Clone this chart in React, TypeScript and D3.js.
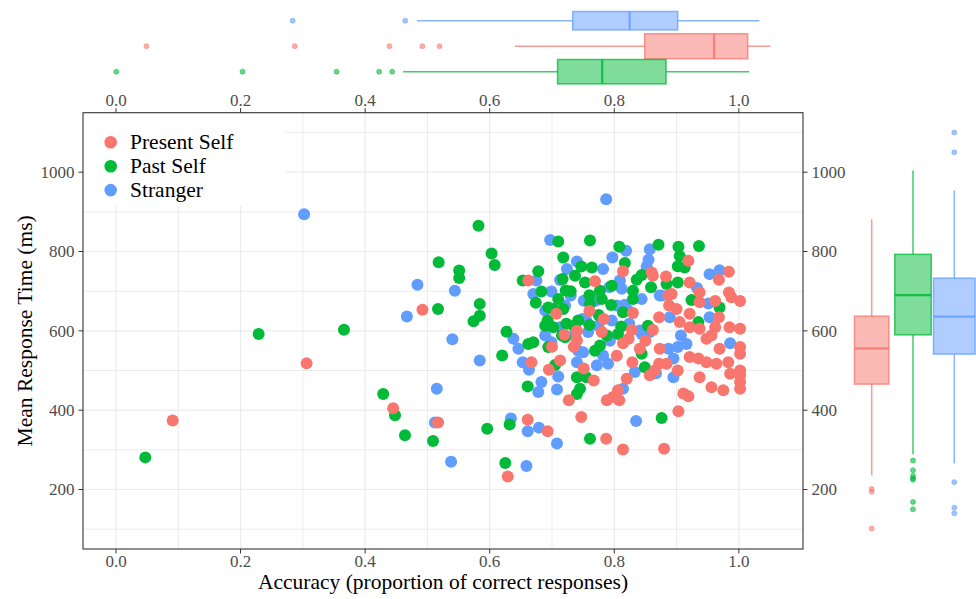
import React from "react";
import * as d3 from "d3";

// ---------- data ----------
const groups = ["Present Self", "Past Self", "Stranger"];
const groupColors = ["#F8766D", "#00BA38", "#619CFF"];

const presentSelf: [number, number][] = [
  [0.091, 374], [0.306, 518], [0.445, 405], [0.492, 653], [0.517, 369], [0.629, 233], [0.661, 376],
  [0.667, 521], [0.693, 347], [0.695, 502], [0.727, 425], [0.662, 727], [0.707, 643], [0.740, 576],
  [0.814, 750], [0.860, 747], [0.919, 777], [0.984, 749], [0.968, 729], [0.883, 737], [0.769, 725],
  [0.921, 722], [0.937, 697], [0.984, 697], [0.988, 685], [1.002, 675], [0.887, 689], [0.888, 664],
  [0.962, 675], [0.900, 655], [0.872, 634], [0.921, 643], [0.968, 634], [0.905, 622], [0.921, 609],
  [0.937, 605], [0.962, 609], [0.985, 609], [1.002, 605], [0.780, 597], [0.814, 569], [0.873, 555],
  [0.956, 588], [0.969, 555], [1.002, 559], [1.002, 542], [0.921, 534], [0.935, 530], [0.948, 521],
  [0.964, 517], [0.983, 521], [0.829, 521], [0.872, 517], [0.857, 488], [0.902, 500], [0.937, 483],
  [0.986, 492], [1.002, 488], [0.956, 458], [0.975, 450], [1.002, 454], [0.911, 442], [0.919, 435],
  [0.820, 479], [0.788, 425], [0.798, 433], [0.808, 425], [0.747, 383], [0.903, 397], [0.787, 328],
  [0.814, 301], [0.880, 303], [0.948, 580], [1.002, 500], [1.002, 471], [0.884, 517], [0.937, 672],
  [0.892, 693], [0.862, 739], [0.862, 602], [0.828, 602], [0.740, 600], [0.700, 560], [0.760, 650],
  [0.720, 590], [0.850, 575], [0.830, 645], [0.783, 630], [0.823, 580], [0.804, 537], [0.841, 555],
  [0.865, 500], [0.806, 450], [0.767, 475], [0.713, 525], [0.735, 560], [0.751, 505],
];

const pastSelf: [number, number][] = [
  [0.047, 281], [0.229, 592], [0.366, 603], [0.429, 441], [0.448, 387], [0.464, 337], [0.509, 322],
  [0.596, 353], [0.632, 364], [0.625, 267], [0.661, 460], [0.740, 441], [0.582, 865], [0.603, 795],
  [0.608, 766], [0.518, 773], [0.551, 752], [0.551, 733], [0.517, 655], [0.584, 668], [0.584, 638],
  [0.574, 624], [0.627, 598], [0.620, 538], [0.662, 567], [0.670, 571], [0.705, 514], [0.710, 825],
  [0.718, 785], [0.737, 739], [0.678, 750], [0.653, 727], [0.717, 731], [0.683, 699], [0.710, 680],
  [0.694, 659], [0.702, 655], [0.718, 655], [0.742, 626], [0.689, 613], [0.702, 609], [0.723, 618],
  [0.716, 588], [0.694, 559], [0.721, 584], [0.740, 483], [0.808, 812], [0.871, 817], [0.903, 812],
  [0.936, 814], [0.905, 789], [0.902, 763], [0.913, 760], [0.747, 762], [0.764, 760], [0.844, 741],
  [0.836, 729], [0.753, 722], [0.777, 701], [0.830, 701], [0.859, 710], [0.884, 718], [0.902, 722],
  [0.924, 678], [0.780, 680], [0.830, 680], [0.969, 659], [0.814, 647], [0.935, 622], [0.811, 611],
  [0.854, 613], [0.788, 588], [0.806, 592], [0.844, 542], [0.769, 550], [0.849, 508], [0.755, 483],
  [0.745, 454], [0.876, 380], [0.761, 328], [0.760, 615], [0.775, 640], [0.795, 665], [0.730, 700],
  [0.760, 690], [0.735, 613], [0.761, 668], [0.717, 588], [0.777, 563], [0.796, 714], [0.817, 771],
  [0.693, 626], [0.674, 671], [0.722, 702], [0.761, 828],
];

const stranger: [number, number][] = [
  [0.302, 894], [0.484, 716], [0.544, 701], [0.467, 636], [0.540, 579], [0.584, 525], [0.638, 580],
  [0.646, 555], [0.653, 521], [0.663, 502], [0.710, 485], [0.683, 471], [0.678, 446], [0.708, 452],
  [0.515, 454], [0.512, 369], [0.538, 270], [0.634, 379], [0.661, 347], [0.679, 356], [0.708, 316],
  [0.659, 259], [0.697, 829], [0.740, 775], [0.724, 756], [0.675, 727], [0.713, 728], [0.670, 693],
  [0.699, 699], [0.730, 689], [0.713, 609], [0.689, 588], [0.699, 571], [0.737, 592], [0.742, 550],
  [0.740, 521], [0.787, 932], [0.819, 802], [0.797, 785], [0.857, 806], [0.855, 779], [0.852, 762],
  [0.782, 756], [0.953, 743], [0.969, 753], [0.792, 710], [0.812, 706], [0.933, 708], [0.876, 689],
  [0.751, 676], [0.804, 664], [0.817, 666], [0.844, 680], [0.951, 669], [0.889, 634], [0.953, 634],
  [0.755, 626], [0.774, 613], [0.796, 626], [0.824, 618], [0.758, 597], [0.844, 592], [0.857, 597],
  [0.887, 555], [0.902, 559], [0.916, 567], [0.907, 588], [0.986, 569], [0.895, 530], [0.750, 546],
  [0.790, 517], [0.772, 513], [0.833, 496], [0.867, 493], [0.895, 483], [0.814, 454], [0.835, 373],
  [0.749, 630], [0.770, 676], [0.793, 575], [0.822, 652], [0.689, 651], [0.721, 664], [0.782, 538],
  [0.841, 601], [0.809, 727], [0.873, 689],
];

// marginal boxplot statistics: [lower whisker, Q1, median, Q3, upper whisker]
const accStatsPresent = [0.628, 0.817, 0.918, 0.967, 1.0];
const accStatsPast = [0.465, 0.690, 0.755, 0.848, 0.969];
const accStatsStranger = [0.485, 0.712, 0.795, 0.865, 0.984];
const accOutPresent = [0.091, 0.307, 0.445, 0.493, 0.518];
const accOutPast = [0.047, 0.231, 0.368, 0.430, 0.449];
const accOutStranger = [0.304, 0.468];

const rtStatsPresent = [328, 489, 552, 609, 780];
const rtStatsPast = [365, 576, 646, 718, 866];
const rtStatsStranger = [349, 542, 608, 676, 831];
const rtOutPresent = [304, 299, 234];
const rtOutPast = [354, 337, 327, 323, 320, 281, 268];
const rtOutStranger = [933, 898, 316, 271, 261];

const xTicks = [0, 0.2, 0.4, 0.6, 0.8, 1.0];
const xMinor = [0.1, 0.3, 0.5, 0.7, 0.9];
const yTicks = [200, 400, 600, 800, 1000];
const yMinor = [100, 300, 500, 700, 900, 1100];

const xTitle = "Accuracy (proportion of correct responses)";
const yTitle = "Mean Response Time (ms)";

// ---------- layout ----------
const W = 976, H = 599;
const P = { l: 83, r: 803, t: 112.7, b: 549 };
const FONT = "'Liberation Serif', 'Times New Roman', serif";

export default function App() {
  const x = d3.scaleLinear().domain([-0.053, 1.103]).range([P.l, P.r]);
  const y = d3.scaleLinear().domain([50, 1150]).range([P.b, P.t]);
  const xM = d3.scaleLinear().domain([-0.0015, 1.0476]).range([P.l, P.r]);
  const yM = d3.scaleLinear().domain([198, 968]).range([P.b, P.t]);

  const topRow = d3.scalePoint<string>().domain(["Stranger", "Present Self", "Past Self"]).range([20.7, 71.7]);
  const rightCol = d3.scalePoint<string>().domain(["Present Self", "Past Self", "Stranger"]).range([871.7, 954.3]);
  const color = d3.scaleOrdinal<string, string>().domain(groups).range(groupColors);

  const series = [
    { g: "Stranger", pts: stranger },
    { g: "Past Self", pts: pastSelf },
    { g: "Present Self", pts: presentSelf },
  ];

  const topBoxes = [
    { g: "Stranger", s: accStatsStranger, o: accOutStranger, h: 9.2 },
    { g: "Present Self", s: accStatsPresent, o: accOutPresent, h: 12.5 },
    { g: "Past Self", s: accStatsPast, o: accOutPast, h: 12.2 },
  ];
  const rightBoxes = [
    { g: "Present Self", s: rtStatsPresent, o: rtOutPresent, w: 17.2 },
    { g: "Past Self", s: rtStatsPast, o: rtOutPast, w: 18.2 },
    { g: "Stranger", s: rtStatsStranger, o: rtOutStranger, w: 20.8 },
  ];

  const tickLen = 4.5;
  const tickColor = "#333333";
  const labColor = "#4D4D4D";

  return (
    <svg width={W} height={H} style={{ position: "absolute", left: 0, top: 0, background: "#fff" }} fontFamily={FONT}>
      {/* grid */}
      <g>
        {xMinor.map((v) => (
          <line key={"xm" + v} x1={x(v)} x2={x(v)} y1={P.t} y2={P.b} stroke="#EBEBEB" strokeWidth={1} />
        ))}
        {yMinor.map((v) => (
          <line key={"ym" + v} x1={P.l} x2={P.r} y1={y(v)} y2={y(v)} stroke="#EBEBEB" strokeWidth={1} />
        ))}
        {xTicks.map((v) => (
          <line key={"xg" + v} x1={x(v)} x2={x(v)} y1={P.t} y2={P.b} stroke="#EBEBEB" strokeWidth={1.2} />
        ))}
        {yTicks.map((v) => (
          <line key={"yg" + v} x1={P.l} x2={P.r} y1={y(v)} y2={y(v)} stroke="#EBEBEB" strokeWidth={1.2} />
        ))}
      </g>

      {/* legend background */}
      <rect x={P.l + 0.5} y={P.t + 0.5} width={202} height={93} fill="#fff" />

      {/* points */}
      <g>
        {series.map((s) =>
          s.pts.map((p, i) => (
            <circle key={s.g + i} cx={x(p[0])} cy={y(p[1])} r={6} fill={color(s.g)} />
          ))
        )}
      </g>

      {/* panel border */}
      <rect x={P.l} y={P.t} width={P.r - P.l} height={P.b - P.t} fill="none" stroke="#333333" strokeWidth={1.1} />

      {/* legend */}
      <g>
        {groups.map((g, i) => (
          <g key={g}>
            <circle cx={110.7} cy={142.3 + i * 23.9} r={6.3} fill={color(g)} />
            <text x={130} y={142.3 + i * 23.9} dy="0.33em" fontSize={21.5} fill="#000">
              {g}
            </text>
          </g>
        ))}
      </g>

      {/* x axis bottom & top */}
      <g>
        {xTicks.map((v) => (
          <g key={"xt" + v}>
            <line x1={x(v)} x2={x(v)} y1={P.b} y2={P.b + tickLen} stroke={tickColor} />
            <text x={x(v)} y={567} textAnchor="middle" fontSize={17} fill={labColor}>
              {d3.format(".1f")(v)}
            </text>
            <line x1={x(v)} x2={x(v)} y1={P.t} y2={P.t - tickLen} stroke={tickColor} />
            <text x={x(v)} y={106.3} textAnchor="middle" fontSize={17} fill={labColor}>
              {d3.format(".1f")(v)}
            </text>
          </g>
        ))}
      </g>

      {/* y axis left & right */}
      <g>
        {yTicks.map((v) => (
          <g key={"yt" + v}>
            <line x1={P.l} x2={P.l - tickLen} y1={y(v)} y2={y(v)} stroke={tickColor} />
            <text x={74.5} y={y(v)} dy="0.35em" textAnchor="end" fontSize={17} fill={labColor}>
              {v}
            </text>
            <line x1={P.r} x2={P.r + tickLen} y1={y(v)} y2={y(v)} stroke={tickColor} />
            <text x={811.5} y={y(v)} dy="0.35em" textAnchor="start" fontSize={17} fill={labColor}>
              {v}
            </text>
          </g>
        ))}
      </g>

      {/* axis titles */}
      <text x={(P.l + P.r) / 2} y={589} textAnchor="middle" fontSize={21.5} fill="#000">
        {xTitle}
      </text>
      <text transform={`translate(32,${(P.t + P.b) / 2}) rotate(-90)`} textAnchor="middle" fontSize={21.5} fill="#000">
        {yTitle}
      </text>

      {/* top marginal boxplots */}
      <g>
        {topBoxes.map((b) => {
          const cy = topRow(b.g) as number;
          const c = color(b.g);
          const [lo, q1, md, q3, hi] = b.s;
          return (
            <g key={"tb" + b.g}>
              <line x1={xM(lo)} x2={xM(q1)} y1={cy} y2={cy} stroke={c} strokeOpacity={0.75} strokeWidth={1.5} />
              <line x1={xM(q3)} x2={xM(hi)} y1={cy} y2={cy} stroke={c} strokeOpacity={0.75} strokeWidth={1.5} />
              <rect x={xM(q1)} y={cy - b.h} width={xM(q3) - xM(q1)} height={2 * b.h} fill={c} fillOpacity={0.5} stroke={c} strokeOpacity={0.75} strokeWidth={1.5} />
              <line x1={xM(md)} x2={xM(md)} y1={cy - b.h} y2={cy + b.h} stroke={c} strokeOpacity={0.85} strokeWidth={2.2} />
              {b.o.map((o, i) => (
                <circle key={i} cx={xM(o)} cy={cy} r={2.5} fill={c} fillOpacity={0.6} stroke={c} strokeOpacity={0.6} strokeWidth={0.8} />
              ))}
            </g>
          );
        })}
      </g>

      {/* right marginal boxplots */}
      <g>
        {rightBoxes.map((b) => {
          const cx = rightCol(b.g) as number;
          const c = color(b.g);
          const [lo, q1, md, q3, hi] = b.s;
          return (
            <g key={"rb" + b.g}>
              <line x1={cx} x2={cx} y1={yM(lo)} y2={yM(q1)} stroke={c} strokeOpacity={0.75} strokeWidth={1.5} />
              <line x1={cx} x2={cx} y1={yM(q3)} y2={yM(hi)} stroke={c} strokeOpacity={0.75} strokeWidth={1.5} />
              <rect x={cx - b.w} y={yM(q3)} width={2 * b.w} height={yM(q1) - yM(q3)} fill={c} fillOpacity={0.5} stroke={c} strokeOpacity={0.75} strokeWidth={1.5} />
              <line x1={cx - b.w} x2={cx + b.w} y1={yM(md)} y2={yM(md)} stroke={c} strokeOpacity={0.85} strokeWidth={2.2} />
              {b.o.map((o, i) => (
                <circle key={i} cx={cx} cy={yM(o)} r={2.5} fill={c} fillOpacity={0.6} stroke={c} strokeOpacity={0.6} strokeWidth={0.8} />
              ))}
            </g>
          );
        })}
      </g>
    </svg>
  );
}
